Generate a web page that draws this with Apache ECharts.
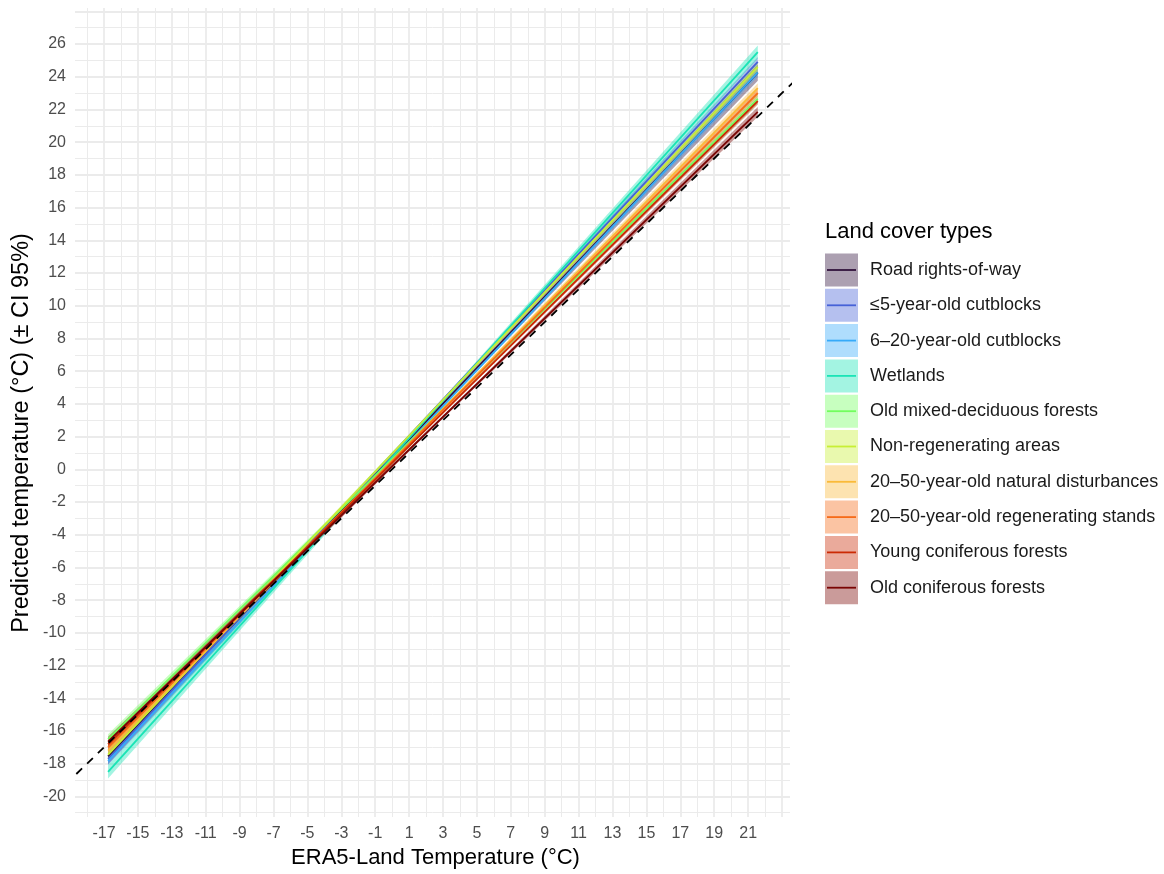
<!DOCTYPE html>
<html>
<head>
<meta charset="utf-8">
<script src="https://cdn.jsdelivr.net/npm/echarts@6/dist/echarts.min.js"></script>
<style>
  html, body { margin: 0; background: #fff; }
  #main { width: 1164px; height: 874px; }
</style>
</head>
<body>
<div id="main"></div>
<script>
// land cover types, in legend order
const landCover = [
  'Road rights-of-way',
  '≤5-year-old cutblocks',
  '6–20-year-old cutblocks',
  'Wetlands',
  'Old mixed-deciduous forests',
  'Non-regenerating areas',
  '20–50-year-old natural disturbances',
  '20–50-year-old regenerating stands',
  'Young coniferous forests',
  'Old coniferous forests'
];
const lineColors = ['#30123B', '#4662D7', '#36AAF9', '#1AE4B6', '#72FE5E',
                    '#C7EF34', '#FABA39', '#F66B19', '#CB2A04', '#7A0403'];

// ERA5 temperature where the fits were read (start, middle, end)
const era5 = [-16.76, 2.4, 21.57];
// predicted temperature
const fitStart = [-17.55, -17.70, -17.85, -18.50, -16.50, -17.45, -17.20, -17.00, -16.80, -16.65];
const fitMid   = [  3.35,   3.60,   3.20,   3.50,   3.08,   3.58,   3.05,   3.00,   2.85,   2.60];
const fitEnd   = [ 24.25,  24.90,  24.26,  25.50,  22.65,  24.60,  23.30,  23.00,  22.50,  21.85];
// half width of the 95% CI
const ciStart = [0.50, 0.30, 0.25, 0.40, 0.30, 0.30, 0.30, 0.25, 0.20, 0.30];
const ciMid   = [0.12, 0.07, 0.06, 0.10, 0.08, 0.08, 0.08, 0.06, 0.05, 0.07];
const ciEnd   = [0.50, 0.30, 0.25, 0.40, 0.30, 0.30, 0.30, 0.25, 0.20, 0.30];

// 1:1 reference line
const oneToOne = [[-25, -25], [30, 30]];

// breaks
const xLabels = [-17, -15, -13, -11, -9, -7, -5, -3, -1, 1, 3, 5, 7, 9, 11, 13, 15, 17, 19, 21];
const xMajor = [-17, -15, -13, -11, -9, -7, -5, -3, -1, 1, 3, 5, 7, 9, 11, 13, 15, 17, 19, 21, 23];
const xMinor = [-18, -16, -14, -12, -10, -8, -6, -4, -2, 0, 2, 4, 6, 8, 10, 12, 14, 16, 18, 20, 22];
const yLabels = [-20, -18, -16, -14, -12, -10, -8, -6, -4, -2, 0, 2, 4, 6, 8, 10, 12, 14, 16, 18, 20, 22, 24, 26];
const yMajor = [-20, -18, -16, -14, -12, -10, -8, -6, -4, -2, 0, 2, 4, 6, 8, 10, 12, 14, 16, 18, 20, 22, 24, 26, 28];
const yMinor = [-21, -19, -17, -15, -13, -11, -9, -7, -5, -3, -1, 1, 3, 5, 7, 9, 11, 13, 15, 17, 19, 21, 23, 25, 27];

const FONT = '"Liberation Sans", Arial, sans-serif';
const gridColor = '#ebebeb';
const xMin = -18.71, xMax = 23.47, yMin = -21.26, yMax = 28.2;

function hexA(hex, a) {
  const n = parseInt(hex.slice(1), 16);
  return 'rgba(' + (n >> 16) + ',' + ((n >> 8) & 255) + ',' + (n & 255) + ',' + a + ')';
}

const chart = echarts.init(document.getElementById('main'), null, { renderer: 'canvas' });

let series = [];

// ribbons first
landCover.forEach(function (name, i) {
  const fits = [fitStart[i], fitMid[i], fitEnd[i]];
  const cis = [ciStart[i], ciMid[i], ciEnd[i]];
  const rows = era5.map(function (x, k) { return [x, fits[k] - cis[k], fits[k] + cis[k]]; });
  series.push({
    type: 'custom',
    name: name + ' CI',
    silent: true,
    encode: { x: 0, y: [1, 2] },
    data: rows,
    renderItem: function (params, api) {
      if (params.dataIndex !== 0) return null;
      const pts = [];
      rows.forEach(function (r) { pts.push(api.coord([r[0], r[1]])); });
      rows.slice().reverse().forEach(function (r) { pts.push(api.coord([r[0], r[2]])); });
      return {
        type: 'polygon',
        shape: { points: pts },
        style: { fill: hexA(lineColors[i], 0.4) }
      };
    }
  });
});

// fitted lines
landCover.forEach(function (name, i) {
  const fits = [fitStart[i], fitMid[i], fitEnd[i]];
  series.push({
    type: 'line',
    name: name,
    silent: true,
    symbol: 'none',
    lineStyle: { color: lineColors[i], width: 1.8 },
    data: era5.map(function (x, k) { return [x, fits[k]]; })
  });
});

series.push({
  type: 'line',
  name: '1:1',
  silent: true,
  symbol: 'none',
  clip: true,
  lineStyle: { color: '#000', width: 1.8, type: [8, 7] },
  data: oneToOne
});

// y title as a graphic so it can sit where the original has it
const graphics = [{
  type: 'text', x: 22, y: 433, rotation: Math.PI / 2,
  style: { text: 'Predicted temperature (°C) (± CI 95%)', font: '23.5px ' + FONT, fill: '#000',
           align: 'center', verticalAlign: 'middle' }
}, {
  type: 'text', x: 825, y: 232,
  style: { text: 'Land cover types', font: '22px ' + FONT, fill: '#000', verticalAlign: 'middle' }
}];
// legend drawn by hand: fill key + line + label
landCover.forEach(function (name, i) {
  const y0 = 253.5 + i * 35.3;
  graphics.push({
    type: 'rect', shape: { x: 825, y: y0, width: 33, height: 33 },
    style: { fill: hexA(lineColors[i], 0.4) }
  });
  graphics.push({
    type: 'line', shape: { x1: 827, y1: y0 + 16.5, x2: 856, y2: y0 + 16.5 },
    style: { stroke: lineColors[i], lineWidth: 1.8 }
  });
  graphics.push({
    type: 'text', x: 870, y: y0 + 16.5,
    style: { text: name, font: '18px ' + FONT, fill: '#1a1a1a', verticalAlign: 'middle' }
  });
});

const option = {
  backgroundColor: '#fff',
  animation: false,
  grid: { left: 75, right: 374, top: 8, bottom: 57 },
  xAxis: [{
    type: 'value', min: xMin, max: xMax,
    name: 'ERA5-Land Temperature (°C)',
    nameLocation: 'middle', nameGap: 30,
    nameTextStyle: { fontFamily: FONT, fontSize: 22, color: '#000', padding: [0, 0, 0, 6] },
    axisLine: { show: false },
    axisTick: { show: false, customValues: xMajor },
    axisLabel: { customValues: xLabels, margin: 9, fontFamily: FONT, fontSize: 16, color: '#4d4d4d' },
    splitLine: { show: true, lineStyle: { color: gridColor, width: 1.8 } }
  }, {
    type: 'value', min: xMin, max: xMax, position: 'top',
    axisLine: { show: false },
    axisTick: { show: false, customValues: xMinor },
    axisLabel: { show: false },
    splitLine: { show: true, lineStyle: { color: gridColor, width: 1 } }
  }],
  yAxis: [{
    type: 'value', min: yMin, max: yMax,
    axisLine: { show: false },
    axisTick: { show: false, customValues: yMajor },
    axisLabel: { customValues: yLabels, margin: 9, fontFamily: FONT, fontSize: 16, color: '#4d4d4d' },
    splitLine: { show: true, lineStyle: { color: gridColor, width: 1.8 } }
  }, {
    type: 'value', min: yMin, max: yMax, position: 'right',
    axisLine: { show: false },
    axisTick: { show: false, customValues: yMinor },
    axisLabel: { show: false },
    splitLine: { show: true, lineStyle: { color: gridColor, width: 1 } }
  }],
  graphic: graphics,
  series: series
};

chart.setOption(option);
window.addEventListener('resize', chart.resize);
</script>
</body>
</html>
